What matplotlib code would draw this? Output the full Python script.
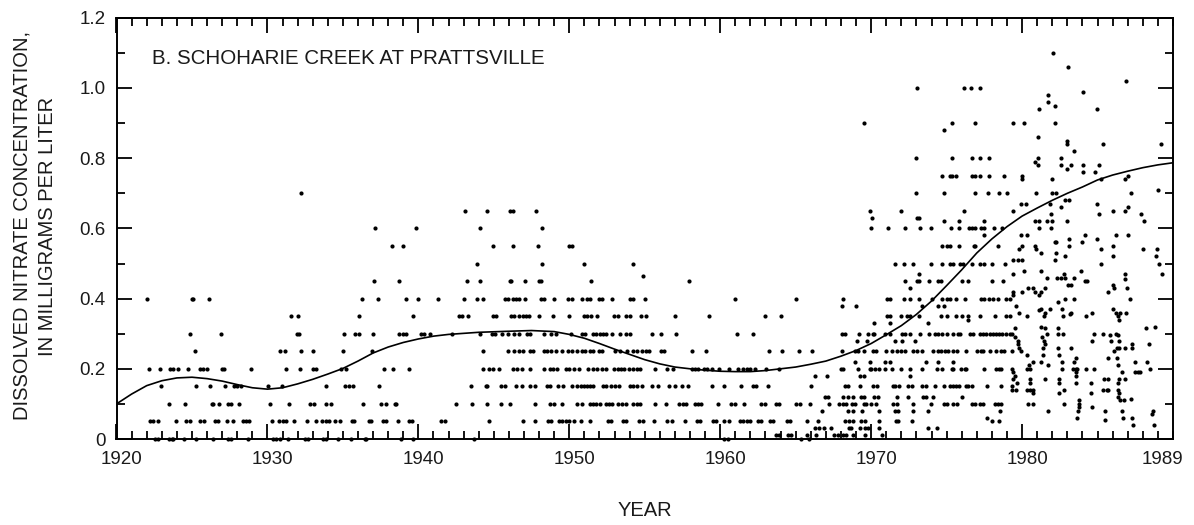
import matplotlib
matplotlib.use("Agg")
import matplotlib.pyplot as plt
import matplotlib.transforms as mtransforms
from matplotlib.ticker import MultipleLocator

plt.rcParams['font.family'] = ['Liberation Sans', 'DejaVu Sans']

# Nitrate samples by decade: concentration (mg/L) -> sample dates (decimal year)
samples_1920s = {
    0.40: [1922.05, 1925.0, 1925.1, 1926.1],
    0.30: [1924.85, 1926.9],
    0.25: [1925.2],
    0.20: [1922.15, 1922.9, 1923.55, 1923.75, 1924.05, 1924.75, 1925.5, 1925.7, 1926.0,
           1927.0, 1927.15, 1928.9],
    0.15: [1922.95, 1925.3, 1926.2, 1927.2, 1927.8, 1928.0, 1928.25],
    0.10: [1923.45, 1924.55, 1926.3, 1926.4, 1926.8, 1927.4, 1927.6, 1928.1],
    0.05: [1922.25, 1922.45, 1922.75, 1923.95, 1924.6, 1924.85, 1925.5, 1925.8, 1926.5,
           1926.7, 1927.3, 1927.75, 1928.4, 1928.6, 1928.8],
    0.00: [1922.55, 1922.75, 1923.45, 1923.65, 1923.75, 1924.45, 1925.3, 1926.4, 1927.4,
           1927.6, 1928.7],
}

samples_1930s = {
    0.70: [1932.25],
    0.60: [1937.15, 1939.85],
    0.55: [1938.25, 1938.95],
    0.45: [1937.05, 1938.75],
    0.40: [1936.25, 1937.35, 1939.15, 1939.95],
    0.35: [1931.55, 1932.0, 1936.05, 1939.65],
    0.30: [1931.95, 1932.1, 1935.1, 1935.8, 1936.1, 1937.0, 1938.75, 1938.95, 1939.15],
    0.25: [1930.85, 1931.15, 1932.25, 1933.0, 1935.0, 1936.95],
    0.20: [1931.25, 1932.15, 1933.0, 1933.25, 1934.9, 1935.2, 1937.75, 1938.35, 1939.35],
    0.15: [1930.05, 1930.95, 1933.85, 1935.15, 1935.4, 1935.65, 1937.4],
    0.10: [1930.2, 1931.45, 1932.8, 1933.1, 1933.9, 1934.2, 1936.35, 1937.55, 1937.85,
           1938.45, 1938.55],
    0.05: [1930.3, 1930.75, 1931.05, 1931.25, 1931.75, 1932.6, 1933.25, 1933.6, 1933.85,
           1934.1, 1934.45, 1934.8, 1935.6, 1935.75, 1936.75, 1936.85, 1937.65, 1937.85,
           1938.65, 1939.4, 1939.55],
    0.00: [1930.35, 1930.55, 1930.8, 1931.35, 1932.5, 1932.7, 1933.7, 1933.9, 1934.7,
           1935.55, 1936.45, 1936.55, 1938.85, 1939.65],
}

samples_1940s = {
    0.65: [1943.1, 1944.55, 1946.05, 1946.25, 1947.8],
    0.60: [1944.1, 1948.2],
    0.55: [1944.95, 1946.25, 1947.9],
    0.50: [1943.9, 1948.2],
    0.45: [1943.2, 1944.1, 1946.05, 1946.15, 1947.05, 1948.0, 1948.1],
    0.40: [1941.3, 1943.05, 1943.9, 1944.25, 1945.75, 1945.95, 1946.25, 1946.45, 1946.65,
           1947.05, 1948.1, 1948.3, 1949.0, 1949.9],
    0.35: [1942.7, 1942.9, 1943.3, 1944.95, 1945.15, 1946.15, 1946.35, 1946.65, 1946.95,
           1947.15, 1947.35, 1948.0, 1948.9],
    0.30: [1940.15, 1940.4, 1940.8, 1942.2, 1944.1, 1944.85, 1945.05, 1945.55, 1945.95,
           1946.35, 1946.65, 1947.2, 1947.4, 1948.3, 1948.8, 1949.1],
    0.25: [1944.25, 1945.95, 1946.35, 1946.65, 1946.95, 1947.4, 1947.6, 1948.3, 1948.5,
           1948.8, 1949.1, 1949.5, 1949.9],
    0.20: [1944.3, 1944.65, 1944.95, 1945.35, 1946.25, 1946.55, 1946.85, 1947.4, 1948.3,
           1948.7, 1948.9, 1949.2, 1949.8],
    0.15: [1943.5, 1944.45, 1944.55, 1945.45, 1945.75, 1946.45, 1946.85, 1947.4, 1947.7,
           1948.5, 1948.7, 1949.25, 1949.6],
    0.10: [1942.5, 1943.55, 1944.55, 1945.45, 1946.05, 1947.7, 1948.7, 1949.0, 1949.5],
    0.05: [1941.5, 1941.75, 1944.65, 1946.95, 1947.7, 1948.6, 1948.8, 1949.3, 1949.5,
           1949.75],
    0.00: [1943.7],
}

samples_1950s = {
    0.55: [1950.0, 1950.2],
    0.50: [1950.95, 1954.2],
    0.465: [1954.9],
    0.45: [1951.45, 1957.95],
    0.40: [1950.2, 1950.85, 1951.15, 1951.35, 1951.95, 1952.15, 1952.85, 1954.05, 1954.2,
           1955.0],
    0.35: [1950.0, 1950.95, 1951.15, 1951.45, 1951.85, 1952.95, 1953.25, 1953.75, 1954.05,
           1954.75, 1955.1, 1957.0, 1959.25],
    0.30: [1950.1, 1950.85, 1951.05, 1951.55, 1951.8, 1952.05, 1952.25, 1952.45, 1952.85,
           1953.35, 1953.75, 1954.05, 1955.5, 1956.1, 1957.1],
    0.25: [1950.2, 1950.5, 1950.85, 1951.05, 1951.35, 1951.55, 1951.95, 1952.15, 1953.05,
           1953.35, 1953.85, 1954.2, 1954.5, 1954.8, 1955.1, 1955.3, 1956.1, 1956.3,
           1958.15, 1959.05],
    0.20: [1950.0, 1950.3, 1950.65, 1951.25, 1951.55, 1951.85, 1952.15, 1952.45, 1952.95,
           1953.25, 1953.45, 1953.65, 1953.95, 1954.2, 1954.5, 1954.7, 1955.7, 1956.5,
           1956.9, 1958.15, 1958.35, 1958.55, 1958.95, 1959.15, 1959.45, 1959.95],
    0.15: [1950.2, 1950.5, 1950.75, 1950.95, 1951.15, 1951.35, 1951.55, 1952.25, 1952.45,
           1952.75, 1953.0, 1953.3, 1954.0, 1954.25, 1954.5, 1954.8, 1955.5, 1955.9,
           1956.6, 1957.0, 1957.45, 1957.85, 1959.45],
    0.10: [1950.5, 1950.85, 1951.35, 1951.55, 1951.8, 1952.05, 1952.45, 1952.65, 1952.85,
           1953.25, 1953.5, 1953.75, 1954.25, 1954.5, 1954.7, 1955.7, 1956.4, 1957.25,
           1957.55, 1957.75, 1958.35, 1958.55, 1958.75, 1959.85],
    0.05: [1950.0, 1950.3, 1950.75, 1951.35, 1952.55, 1952.75, 1953.55, 1953.75, 1954.6,
           1954.9, 1955.6, 1956.5, 1956.8, 1957.65, 1958.45, 1958.65, 1959.55, 1959.75],
}

samples_1960s = {
    0.90: [1969.5],
    0.65: [1969.9],
    0.40: [1961.0, 1965.0, 1968.15],
    0.38: [1968.05, 1969.0],
    0.35: [1963.0, 1964.0],
    0.30: [1961.1, 1962.2, 1968.05, 1968.25, 1969.2, 1969.8],
    0.28: [1969.05, 1969.7],
    0.25: [1963.2, 1964.1, 1965.2, 1966.05, 1968.05, 1968.9, 1969.15, 1969.5],
    0.22: [1968.9, 1969.9],
    0.20: [1960.6, 1961.2, 1961.5, 1961.8, 1962.0, 1962.3, 1963.05, 1963.9, 1968.0,
           1968.15, 1969.1, 1969.9],
    0.18: [1966.25, 1967.05, 1969.25, 1969.5],
    0.15: [1960.25, 1961.35, 1962.2, 1962.4, 1963.15, 1966.0, 1968.3, 1968.45, 1969.25],
    0.12: [1966.95, 1967.15, 1968.15, 1968.45, 1968.8, 1969.3, 1969.5],
    0.10: [1960.7, 1960.95, 1961.55, 1962.7, 1962.95, 1963.7, 1963.9, 1965.0, 1965.3,
           1965.95, 1967.2, 1967.85, 1968.15, 1968.35, 1968.7, 1968.9, 1969.5, 1969.65],
    0.08: [1966.75, 1968.45, 1968.8, 1969.4],
    0.05: [1960.25, 1960.6, 1961.3, 1961.5, 1961.75, 1962.0, 1962.5, 1962.7, 1963.3,
           1963.5, 1964.4, 1964.6, 1965.75, 1966.45, 1968.25, 1968.5, 1968.8, 1969.35,
           1969.6],
    0.03: [1966.25, 1966.55, 1966.85, 1967.35, 1968.55, 1968.65, 1969.25, 1969.6, 1969.8],
    0.01: [1963.7, 1963.9, 1964.5, 1964.7, 1965.75, 1966.35, 1967.55, 1967.8, 1968.15,
           1968.35, 1968.8, 1969.6],
    0.00: [1960.25, 1960.5, 1965.35, 1965.85],
}

samples_1970s = {
    1.00: [1973.05, 1976.15, 1976.6, 1977.2],
    0.90: [1975.35, 1976.9, 1979.4],
    0.88: [1974.85],
    0.80: [1972.95, 1975.35, 1976.7, 1977.2, 1977.8],
    0.75: [1974.7, 1975.2, 1975.35, 1975.6, 1976.7, 1976.9, 1977.2, 1977.8, 1978.8],
    0.70: [1972.95, 1974.8, 1976.9, 1977.75, 1978.5, 1979.0],
    0.67: [1979.9],
    0.65: [1972.0, 1976.15, 1979.4],
    0.63: [1970.05, 1973.05, 1973.15],
    0.62: [1974.8, 1975.85, 1977.5],
    0.60: [1970.0, 1971.15, 1972.25, 1973.25, 1973.95, 1975.3, 1975.85, 1976.5, 1976.7,
           1976.9, 1977.25, 1977.5, 1978.15, 1978.7],
    0.58: [1977.5, 1979.9],
    0.55: [1974.7, 1975.0, 1975.2, 1975.85, 1976.8, 1976.9, 1978.4],
    0.54: [1979.8],
    0.51: [1979.4, 1979.7],
    0.50: [1971.6, 1972.15, 1972.8, 1973.95, 1974.7, 1975.25, 1975.45, 1975.9, 1976.1,
           1976.7, 1977.2, 1977.5, 1978.0, 1978.9],
    0.47: [1973.15, 1979.4],
    0.45: [1972.25, 1973.05, 1973.15, 1973.85, 1974.45, 1974.6, 1976.0, 1976.45, 1978.0,
           1978.75],
    0.43: [1972.55],
    0.42: [1979.4],
    0.41: [1979.4],
    0.40: [1971.05, 1971.25, 1972.15, 1972.55, 1973.15, 1974.05, 1974.7, 1975.0, 1975.25,
           1975.65, 1976.2, 1977.3, 1977.5, 1977.8, 1978.1, 1978.4, 1978.95, 1979.2],
    0.38: [1973.35, 1974.45, 1974.8, 1979.6],
    0.36: [1979.8],
    0.35: [1971.05, 1971.25, 1971.95, 1972.35, 1972.55, 1973.15, 1974.65, 1975.0, 1975.6,
           1976.0, 1976.45, 1977.2, 1978.2, 1978.95, 1979.2],
    0.34: [1976.45],
    0.33: [1970.2, 1971.25, 1973.75],
    0.315: [1979.5],
    0.30: [1970.1, 1970.2, 1970.9, 1971.25, 1972.05, 1972.25, 1972.55, 1973.25, 1973.85,
           1974.25, 1974.45, 1974.7, 1975.0, 1975.45, 1975.75, 1975.9, 1976.55, 1976.75,
           1977.2, 1977.4, 1977.6, 1977.85, 1978.1, 1978.3, 1978.5, 1978.7, 1978.95,
           1979.2, 1979.3],
    0.29: [1979.55],
    0.28: [1971.6, 1972.05, 1972.9, 1979.7],
    0.27: [1979.7],
    0.26: [1979.8],
    0.25: [1970.1, 1970.35, 1971.0, 1971.35, 1971.7, 1971.95, 1972.25, 1972.8, 1973.05,
           1973.35, 1974.1, 1974.45, 1974.65, 1974.9, 1975.1, 1975.45, 1975.7, 1976.3,
           1977.0, 1977.25, 1977.4, 1977.85, 1978.3, 1978.6, 1978.8, 1979.3, 1979.9],
    0.22: [1970.9, 1971.25, 1973.65, 1974.45, 1975.45],
    0.20: [1970.0, 1970.25, 1970.55, 1970.95, 1971.35, 1971.95, 1972.55, 1973.35, 1974.35,
           1974.7, 1975.35, 1975.45, 1975.95, 1976.2, 1976.3, 1977.5, 1978.3, 1978.5,
           1978.6, 1979.3],
    0.19: [1979.4],
    0.18: [1972.55, 1979.55],
    0.17: [1979.4],
    0.16: [1979.65],
    0.15: [1970.1, 1970.4, 1971.45, 1971.6, 1971.85, 1972.45, 1972.7, 1973.35, 1973.65,
           1974.2, 1974.8, 1975.2, 1975.4, 1975.6, 1975.8, 1976.3, 1976.45, 1976.65,
           1977.65, 1978.6, 1979.3],
    0.14: [1979.3, 1979.6],
    0.12: [1970.2, 1970.45, 1971.7, 1972.45, 1973.45, 1973.65, 1974.1, 1976.0],
    0.10: [1970.0, 1970.35, 1971.45, 1971.7, 1972.8, 1973.95, 1974.8, 1975.0, 1975.45,
           1975.7, 1976.65, 1976.9, 1977.2, 1977.4, 1978.2, 1978.4, 1978.6],
    0.08: [1970.55, 1971.6, 1971.8, 1972.75, 1973.75, 1978.55],
    0.06: [1977.7],
    0.05: [1970.55, 1971.65, 1971.8, 1972.7, 1978.0, 1978.5],
    0.03: [1970.55, 1973.75, 1974.35],
    0.01: [1970.75],
}

samples_1980s = {
    1.10: [1982.05],
    1.06: [1983.05],
    1.02: [1986.9],
    0.99: [1984.05],
    0.98: [1981.75],
    0.96: [1981.75],
    0.95: [1982.15],
    0.94: [1981.15, 1984.95],
    0.90: [1980.15, 1982.15],
    0.86: [1981.05],
    0.85: [1982.95],
    0.84: [1982.95, 1985.35, 1989.2],
    0.82: [1983.45],
    0.80: [1981.05, 1982.55],
    0.79: [1980.85],
    0.78: [1981.05, 1982.55, 1983.25, 1984.05, 1985.1],
    0.77: [1982.95],
    0.76: [1984.05, 1984.85],
    0.75: [1980.0, 1987.0],
    0.74: [1980.0, 1982.0, 1985.2, 1986.8],
    0.71: [1989.0],
    0.70: [1980.95, 1982.0, 1982.25, 1987.2],
    0.68: [1982.85, 1983.1],
    0.67: [1980.25, 1981.85, 1984.95],
    0.66: [1982.55, 1987.0],
    0.65: [1986.0, 1986.85],
    0.64: [1981.9, 1985.1, 1987.9],
    0.62: [1980.85, 1981.15, 1981.65, 1981.95, 1982.95, 1988.05],
    0.60: [1981.15, 1981.9],
    0.58: [1980.3, 1984.15, 1986.2, 1987.0],
    0.57: [1983.1, 1984.95],
    0.56: [1982.15, 1982.25, 1983.95],
    0.55: [1980.0, 1980.85, 1983.1, 1986.0],
    0.54: [1980.95, 1985.2, 1988.0, 1988.95],
    0.53: [1981.25, 1982.25],
    0.52: [1982.85, 1986.0, 1988.9],
    0.51: [1980.0, 1982.15],
    0.50: [1985.2, 1989.1],
    0.48: [1980.15, 1981.25, 1983.9],
    0.47: [1982.8, 1986.8, 1989.25],
    0.46: [1981.65, 1982.3, 1982.55, 1982.85, 1983.45],
    0.455: [1986.85],
    0.45: [1984.15, 1984.3],
    0.44: [1983.05, 1983.25, 1986.0],
    0.43: [1980.4, 1980.7, 1981.55, 1986.1, 1986.95],
    0.42: [1980.0, 1980.85, 1981.25, 1985.7],
    0.41: [1981.15],
    0.40: [1982.85, 1983.45, 1987.15],
    0.39: [1982.35],
    0.37: [1981.25, 1981.85, 1982.65, 1986.0],
    0.368: [1981.1],
    0.36: [1981.55, 1983.25, 1984.65, 1986.2, 1986.5, 1986.9],
    0.355: [1983.15],
    0.35: [1980.35, 1981.45, 1982.7, 1984.25, 1986.35],
    0.34: [1986.45],
    0.32: [1981.25, 1988.8],
    0.315: [1981.55, 1982.35, 1988.2],
    0.30: [1981.65, 1982.35, 1982.7, 1984.75, 1985.35, 1986.25],
    0.295: [1985.85, 1986.35],
    0.29: [1981.35],
    0.28: [1981.45, 1984.65, 1985.9, 1986.45],
    0.27: [1981.5, 1987.3, 1988.4],
    0.26: [1981.4, 1982.35, 1983.25, 1986.3, 1986.45, 1986.8, 1987.3],
    0.25: [1986.1],
    0.24: [1980.35, 1981.4, 1982.45],
    0.23: [1983.6, 1985.7, 1986.3],
    0.22: [1980.75, 1981.25, 1982.65, 1983.45, 1987.45, 1988.3],
    0.21: [1980.45, 1981.75, 1986.35],
    0.20: [1980.35, 1980.55, 1982.65, 1983.35, 1983.55, 1983.65, 1984.25, 1984.75,
           1988.45],
    0.19: [1983.6, 1986.6, 1987.45, 1987.7, 1987.8],
    0.18: [1983.55],
    0.17: [1980.55, 1981.55, 1982.45, 1985.45, 1985.7, 1986.45, 1986.8],
    0.16: [1980.55, 1982.45, 1983.55, 1984.55, 1986.35],
    0.14: [1980.35, 1980.55, 1980.75, 1982.75, 1985.35, 1985.65, 1985.7, 1986.35],
    0.13: [1980.75, 1982.45, 1984.55, 1986.45],
    0.12: [1986.35],
    0.115: [1987.25],
    0.11: [1983.75, 1986.5, 1986.75],
    0.10: [1980.4, 1980.75, 1982.75, 1983.8],
    0.09: [1983.75, 1984.65],
    0.08: [1981.75, 1983.7, 1985.5, 1986.6, 1988.65],
    0.07: [1988.6],
    0.06: [1983.65, 1986.7, 1987.3],
    0.055: [1985.5],
    0.04: [1987.35, 1988.75],
}

# Smoothed trend line through the record
trend_year = [1920, 1921, 1922, 1923, 1924, 1925, 1926, 1927, 1928, 1929, 1930, 1931,
              1932, 1933, 1934, 1935, 1936, 1937, 1938, 1939, 1940, 1941, 1942, 1944,
              1946, 1947.5, 1949, 1950, 1951, 1952, 1953, 1954, 1955, 1956, 1957, 1958,
              1959, 1960, 1961, 1962, 1963, 1964, 1965, 1966, 1967, 1968, 1969, 1970,
              1971, 1972, 1973, 1974, 1975, 1976, 1977, 1978, 1979, 1980, 1981, 1982,
              1983, 1984, 1985, 1986, 1987, 1988, 1989, 1990]
trend_conc = [0.100, 0.128, 0.152, 0.166, 0.174, 0.176, 0.172, 0.165, 0.155, 0.146,
              0.142, 0.146, 0.157, 0.170, 0.185, 0.201, 0.222, 0.245, 0.262, 0.275,
              0.285, 0.293, 0.298, 0.304, 0.307, 0.309, 0.306, 0.298, 0.287, 0.272,
              0.256, 0.241, 0.226, 0.214, 0.205, 0.200, 0.196, 0.193, 0.192, 0.192,
              0.195, 0.200, 0.205, 0.213, 0.222, 0.236, 0.252, 0.272, 0.297, 0.323,
              0.355, 0.393, 0.437, 0.482, 0.530, 0.570, 0.605, 0.635, 0.658, 0.680,
              0.700, 0.718, 0.738, 0.752, 0.763, 0.773, 0.781, 0.787]

x_tick_years = [1920, 1930, 1940, 1950, 1960, 1970, 1980, 1989]
y_ticks = [0, 0.2, 0.4, 0.6, 0.8, 1.0, 1.2]
y_tick_labels = ['0', '0.2', '0.4', '0.6', '0.8', '1.0', '1.2']

station_title = 'B. SCHOHARIE CREEK AT PRATTSVILLE'
y_title = 'DISSOLVED NITRATE CONCENTRATION,\nIN MILLIGRAMS PER LITER'
x_title = 'YEAR'

# ---------------------------------------------------------------------------
years, conc = [], []
for decade in (samples_1920s, samples_1930s, samples_1940s, samples_1950s,
               samples_1960s, samples_1970s, samples_1980s):
    for level, dates in decade.items():
        years.extend(dates)
        conc.extend([level] * len(dates))

W, H = 1194, 525
fig = plt.figure(figsize=(W / 100, H / 100), dpi=100)
ax = fig.add_axes([116.5 / W, (H - 439) / H, (1173 - 116.5) / W, (439 - 17.8) / H])

ax.scatter(years, conc, s=9, c='black', marker='o', linewidths=0, clip_on=False,
           zorder=3)
ax.plot(trend_year, trend_conc, color='black', lw=1.2, zorder=4)

ax.set_xlim(1920, 1990)
ax.set_ylim(0, 1.2)

ax.set_xticks(x_tick_years)
ax.set_xticklabels([str(y) for y in x_tick_years])
ax.xaxis.set_minor_locator(MultipleLocator(1))
ax.set_yticks(y_ticks)
ax.set_yticklabels(y_tick_labels)
ax.yaxis.set_minor_locator(MultipleLocator(0.1))

for sp in ax.spines.values():
    sp.set_linewidth(1.4)

ax.tick_params(which='both', direction='in', top=True, right=True, width=1.3,
               labelsize=13.5, color='black', labelcolor='#1a1a1a')
ax.tick_params(which='major', length=10.5)
ax.tick_params(which='minor', length=5.8)
ax.tick_params(axis='x', which='major', pad=9)
ax.tick_params(axis='y', which='major', pad=8)

# year labels sit a few pixels right of their ticks
shift = mtransforms.ScaledTranslation(5 / 100, 0, fig.dpi_scale_trans)
for tick in ax.xaxis.get_major_ticks():
    tick.label1.set_transform(tick.label1.get_transform() + shift)

# the 1989 label sits on an ordinary one-year tick
last = ax.xaxis.get_major_ticks()[-1]
last.tick1line.set_markersize(5.8)
last.tick2line.set_markersize(5.8)

ax.text(1922.35, 1.085, station_title, fontsize=14.8, va='center', ha='left',
        color='#1a1a1a')

fig.text(35 / W, (H - 226) / H, y_title, rotation=90, ha='center', va='center',
         fontsize=14.5, color='#1a1a1a', linespacing=1.45, multialignment='center')
fig.text(645 / W, (H - 510) / H, x_title, ha='center', va='center', fontsize=14.5,
         color='#1a1a1a')

fig.savefig('out.png', dpi=100)
